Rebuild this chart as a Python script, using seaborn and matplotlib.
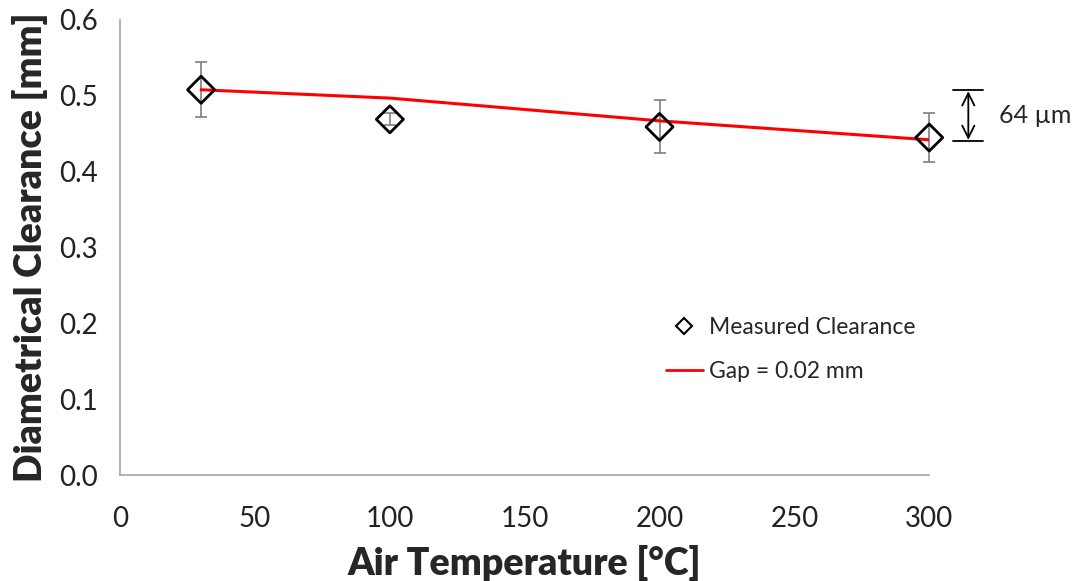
import matplotlib
matplotlib.use("Agg")
import matplotlib.pyplot as plt
import seaborn as sns
import pandas as pd
from matplotlib.lines import Line2D

# Data
temps = [30, 100, 200, 300]
clearance = [0.508, 0.469, 0.459, 0.445]
clearance_err = [0.036, 0.008, 0.035, 0.032]
gap_temps = [30, 100, 200, 300]
gap_values = [0.508, 0.497, 0.467, 0.442]
x_ticks = [0, 50, 100, 150, 200, 250, 300]
y_ticks = [0.0, 0.1, 0.2, 0.3, 0.4, 0.5, 0.6]

sns.set_style("white")
plt.rcParams['font.family'] = ['Lato', 'DejaVu Sans']

fig = plt.figure(figsize=(10.83, 5.81), dpi=100)
ax = fig.add_axes([0.111, 0.1824, 0.747, 0.7832])

df_m = pd.DataFrame({"T": temps, "C": clearance})
df_g = pd.DataFrame({"T": gap_temps, "G": gap_values})

ax.errorbar(temps, clearance, yerr=clearance_err, fmt='none', ecolor='#7f7f7f',
            elinewidth=1.2, capsize=4, capthick=1.2, zorder=2, clip_on=False)
sns.lineplot(data=df_g, x="T", y="G", ax=ax, color='#ff0000', linewidth=2.2,
             label="Gap = 0.02 mm", zorder=3)
sns.scatterplot(data=df_m, x="T", y="C", ax=ax, marker='D', s=190,
                facecolor='none', edgecolor='black', linewidth=2.0,
                label="Measured Clearance", zorder=4, clip_on=False)

ax.set_xlim(0, 300)
ax.set_ylim(0, 0.6)
ax.set_xticks(x_ticks)
ax.set_yticks(y_ticks)
ax.set_yticklabels([f"{v:.1f}" for v in y_ticks])
ax.tick_params(axis='both', labelsize=20, colors='#222222', length=6, width=1,
               direction='out', color='#a0a0a0', pad=10)
ax.tick_params(axis='x', pad=16)
for s in ['top', 'right']:
    ax.spines[s].set_visible(False)
for s in ['left', 'bottom']:
    ax.spines[s].set_color('#a6a6a6')
    ax.spines[s].set_linewidth(1.2)

ax.set_xlabel("Air Temperature [°C]", fontsize=27, fontweight='heavy', labelpad=10)
ax.set_ylabel("Diametrical Clearance [mm]", fontsize=27, fontweight='heavy', labelpad=8)

# Legend
handles = [Line2D([], [], marker='D', linestyle='none', markerfacecolor='none',
                  markeredgecolor='black', markersize=8, markeredgewidth=1.5),
           Line2D([], [], color='#ff0000', linewidth=2)]
ax.legend(handles, ["Measured Clearance", "Gap = 0.02 mm"], loc='upper left',
          bbox_to_anchor=(0.649, 0.393), frameon=False, fontsize=16.5,
          handlelength=1.6, handletextpad=0.3, labelspacing=1.0)

# 64 µm annotation
ax.plot([309, 320], [0.508, 0.508], color='black', lw=1.3, clip_on=False)
ax.plot([309, 320], [0.440, 0.440], color='black', lw=1.3, clip_on=False)
ax.annotate("", xy=(314.5, 0.442), xytext=(314.5, 0.506), annotation_clip=False,
            arrowprops=dict(arrowstyle='<->', color='black', lw=1.3,
                            shrinkA=0, shrinkB=0, mutation_scale=22))
ax.text(326, 0.474, "64 µm", fontsize=18, va='center', ha='left', clip_on=False)

fig.savefig("out.png", dpi=100)
